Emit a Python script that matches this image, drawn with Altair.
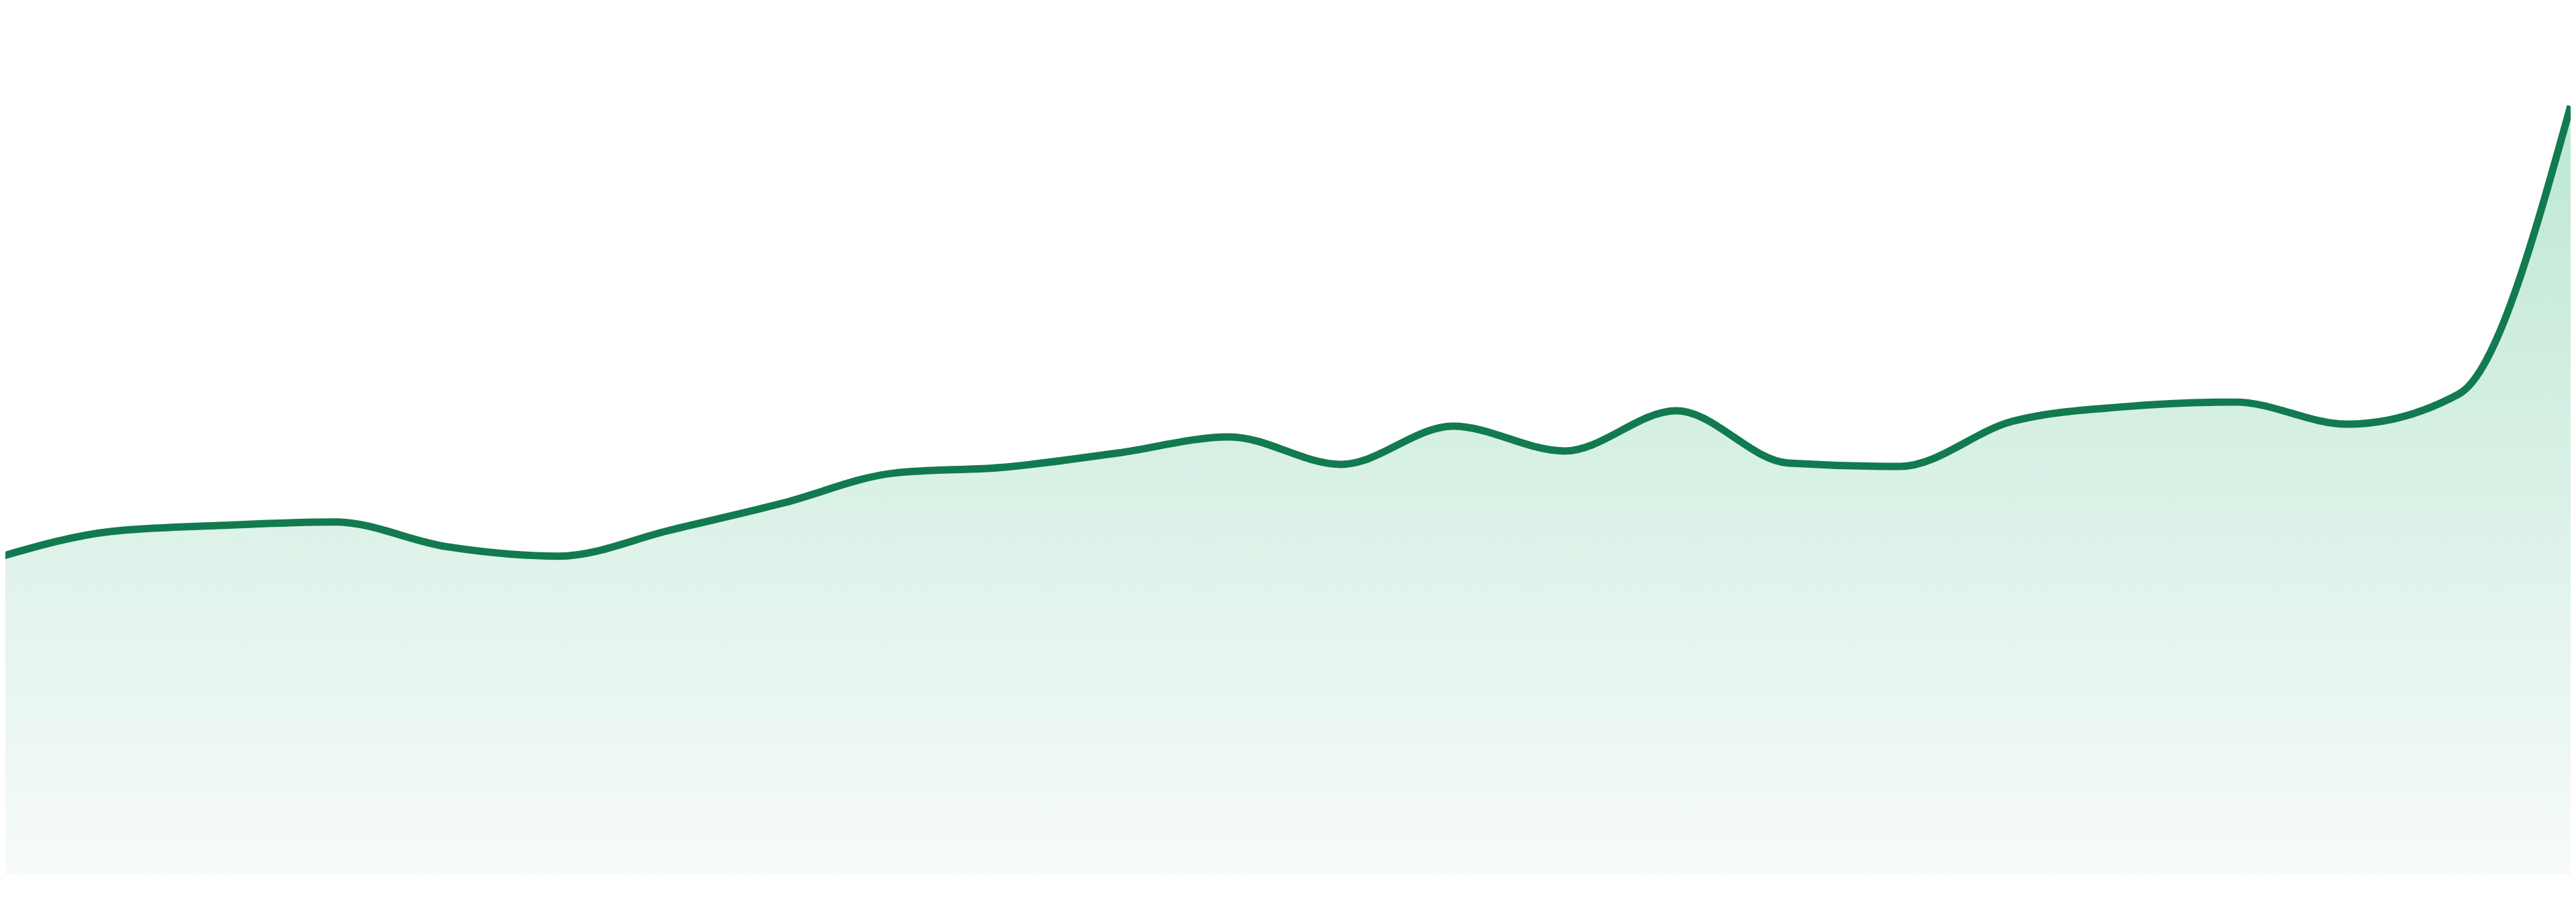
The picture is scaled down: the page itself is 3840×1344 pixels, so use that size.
import altair as alt
import pandas as pd

# index of each sample (evenly spaced, no axis labels shown)
idx = list(range(24))
# values (arbitrary units, no axis shown)
values = [47.5, 51.3, 52.2, 52.7, 49.0, 47.6, 51.5, 55.5, 60.0, 60.9, 63.0, 65.4,
          61.3, 67.0, 63.3, 69.3, 61.5, 61.0, 67.7, 69.9, 70.6, 67.3, 71.8, 114.8]

df = pd.DataFrame({"i": idx, "v": values})

LINE = "#127a50"
x_enc = alt.X("i:Q", axis=None, scale=alt.Scale(domain=[0, 23], nice=False, zero=False))
y_enc = alt.Y("v:Q", axis=None, scale=alt.Scale(domain=[0, 129.7], nice=False))

grad = alt.Gradient(
    gradient="linear",
    stops=[alt.GradientStop(color="#bde7d4", offset=0),
           alt.GradientStop(color="#f7fbf9", offset=1)],
    x1=1, x2=1, y1=0, y2=1,
)

area = alt.Chart(df).mark_area(interpolate="monotone", color=grad, clip=True).encode(x=x_enc, y=y_enc)
line = alt.Chart(df).mark_line(interpolate="monotone", color=LINE, strokeWidth=11, clip=True).encode(x=x_enc, y=y_enc)

chart = (area + line).properties(
    width=3840, height=1297,
    padding={"left": -8, "top": 0, "right": 0, "bottom": 0},
    background="white",
).configure_view(strokeWidth=0)

chart.save("out.html", embed_options={"renderer": "svg", "actions": False})
